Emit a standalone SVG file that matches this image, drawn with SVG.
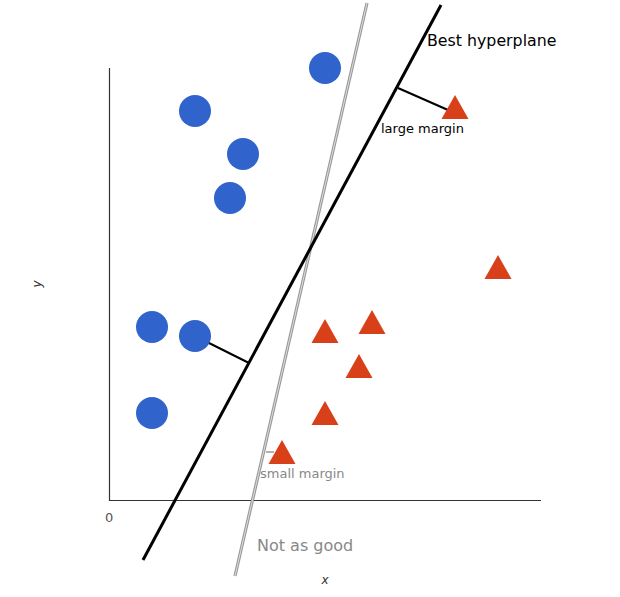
<svg xmlns="http://www.w3.org/2000/svg" width="620" height="597" viewBox="0 0 620 597">
<style>
.pt{fill:#3063cc}
.tri{fill:#d8401a}
.lbl{font-family:"DejaVu Sans",sans-serif}
</style>
<rect width="620" height="597" fill="#fff"/>
<g id="axes" stroke="#333" stroke-width="1.2" fill="none">
<path d="M109.5 68 V500.5 H541"/>
</g>
<g id="connectors">
<line x1="367" y1="3" x2="235" y2="576" stroke="#999" stroke-width="3.2"/>
<line x1="367" y1="3" x2="235" y2="576" stroke="#ddd" stroke-width="1"/>
<line x1="441" y1="5" x2="143" y2="560" stroke="#000" stroke-width="3"/>
<line x1="398" y1="88" x2="448" y2="110" stroke="#000" stroke-width="2"/>
<line x1="205" y1="341" x2="249" y2="363" stroke="#000" stroke-width="2"/>
<line x1="266" y1="452" x2="274" y2="452" stroke="#999" stroke-width="1.5"/>
</g>
<g id="circles">
<circle class="pt" cx="325" cy="68" r="16"/>
<circle class="pt" cx="195" cy="111" r="16"/>
<circle class="pt" cx="243" cy="154" r="16"/>
<circle class="pt" cx="230" cy="198" r="16"/>
<circle class="pt" cx="152" cy="327" r="16"/>
<circle class="pt" cx="195" cy="336" r="16"/>
<circle class="pt" cx="152" cy="413" r="16"/>
</g>
<g id="triangles">
<polygon class="tri" points="455,95 468.5,119 441.5,119"/>
<polygon class="tri" points="498,255 511.5,279 484.5,279"/>
<polygon class="tri" points="325,319 338.5,343 311.5,343"/>
<polygon class="tri" points="372,310 385.5,334 358.5,334"/>
<polygon class="tri" points="359,354 372.5,378 345.5,378"/>
<polygon class="tri" points="325,401 338.5,425 311.5,425"/>
<polygon class="tri" points="282,440 295.5,464 268.5,464"/>
</g>
<g id="labels" class="lbl">
<text x="427" y="46" font-size="15.8" fill="#000">Best hyperplane</text>
<text x="381" y="133" font-size="13" fill="#000">large margin</text>
<text x="260" y="478" font-size="13" fill="#888">small margin</text>
<text x="105" y="522" font-size="13" fill="#555">0</text>
<text x="257" y="551" font-size="16" fill="#888">Not as good</text>
<text x="325" y="584" font-size="12" font-style="italic" fill="#333" text-anchor="middle">x</text>
<text transform="translate(41,284) rotate(-90)" font-size="12" font-style="italic" fill="#333" text-anchor="middle">y</text>
</g>
</svg>
